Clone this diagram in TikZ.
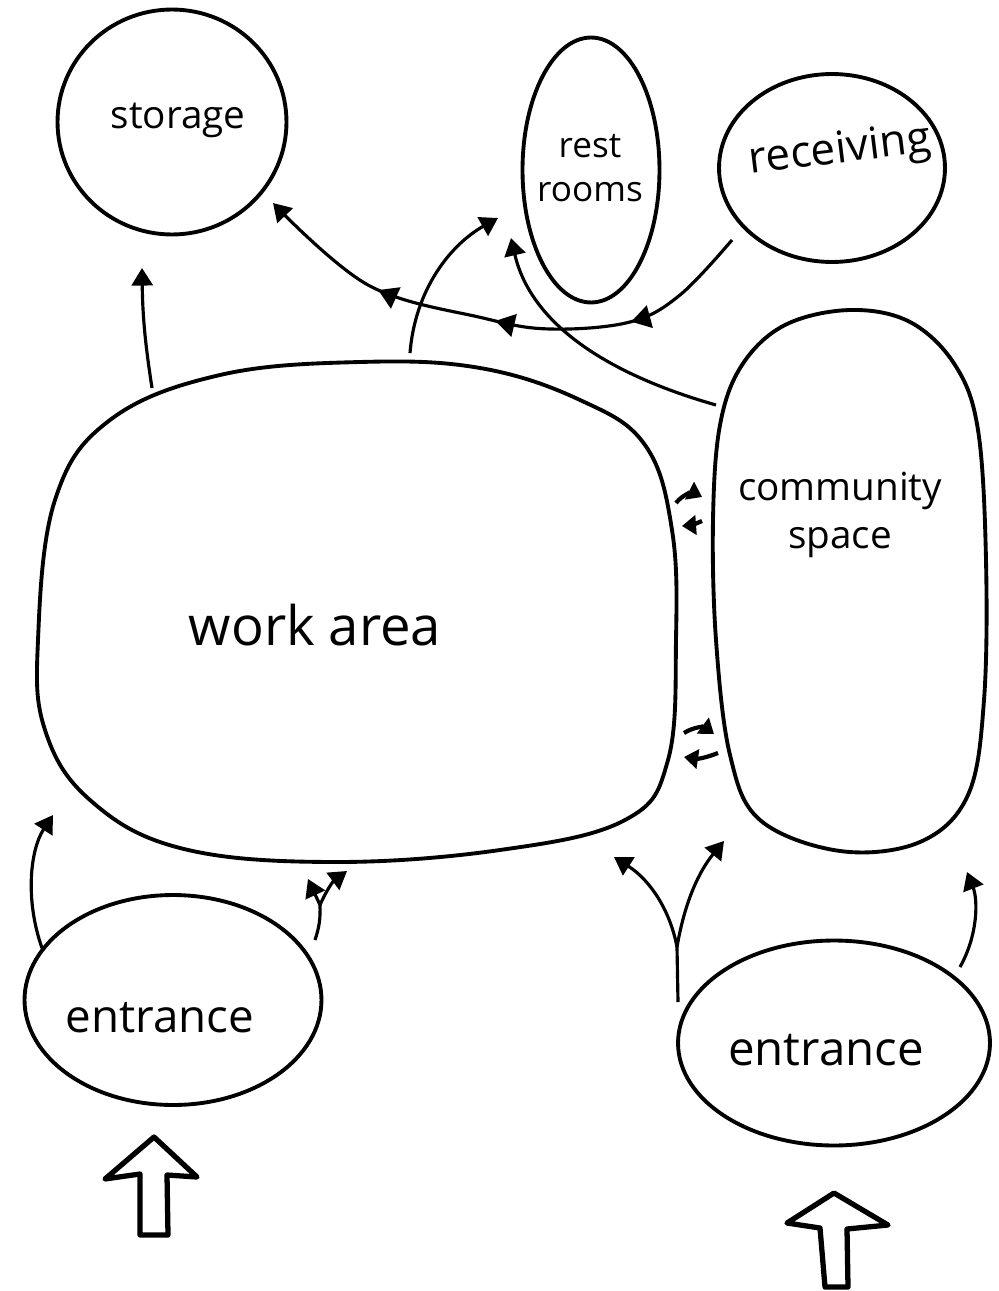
\documentclass[tikz,border=0pt]{standalone}
\usepackage{fontspec}
\setmainfont{Open Sans}
\usetikzlibrary{arrows.meta,decorations.markings,shapes.geometric}
\begin{document}
\begin{tikzpicture}[x=0.02cm,y=-0.02cm,
 room/.style={draw,line width=2.2pt,ellipse,inner sep=0pt},
 blob/.style={line width=2.2pt},
 conn/.style={line width=1.8pt,-{Triangle[width=12pt,length=10pt]}},
 txt/.style={font=\fontsize{22}{27}\selectfont,inner sep=0pt,align=center},
 swaparr/.style={line width=2.4pt,-{Triangle[width=11pt,length=8pt]}},
 blockarr/.style={draw,line width=3pt,line join=round},
 midtri/.style={decoration={markings,
   mark=at position 0.25 with {\arrow{Triangle[width=13pt,length=11pt]}},
   mark=at position 0.51 with {\arrow{Triangle[width=13pt,length=11pt]}},
   mark=at position 0.74 with {\arrow{Triangle[width=13pt,length=11pt]}}},
   postaction={decorate}}]
\useasboundingbox (0,0) rectangle (999,1291);
\fill[white] (0,0) rectangle (999,1291);

% rooms
\node[room,minimum width=4.58cm,minimum height=4.5cm] (storage) at (172,122) {};
\node[txt] (storagetxt) at (178,120) {storage};
\node[room,minimum width=2.74cm,minimum height=5.3cm] (rest) at (591,170) {};
\node[txt,font=\fontsize{20}{25}\selectfont] (resttxt) at (590,168) {rest\\rooms};
\node[room,minimum width=4.52cm,minimum height=3.76cm] (receiving) at (832,168) {};
\node[txt,font=\fontsize{25}{30}\selectfont,rotate=7] (receivingtxt) at (840,152) {receiving};

% work area blob
\draw[blob] plot[smooth cycle,tension=0.65] coordinates {
 (38,640) (55,500) (110,420) (220,375) (360,362) (480,368) (580,400)
 (645,445) (672,530) (676,640) (668,760) (625,820) (500,850) (330,862)
 (180,848) (90,800) (45,730)};
\node[txt,font=\fontsize{31}{36}\selectfont] (work) at (315,625) {work area};
\coordinate (waTopL) at (152,388);
\coordinate (waTopM) at (410,353);

% community space blob
\draw[blob] plot[smooth cycle,tension=0.6] coordinates {
 (850,310) (785,325) (742,365) (720,425) (713,520) (716,640) (730,755) (760,820)
 (840,851) (920,842) (968,795) (984,700) (986,560) (978,430) (955,365) (910,322)};
\node[txt] (communitytxt) at (840,515) {community\\space};

% entrances
\node[room,minimum width=5.94cm,minimum height=4.2cm] (entL) at (173,1000) {};
\node[txt,font=\fontsize{26}{30}\selectfont] (entLtxt) at (160,1018) {entrance};
\node[room,minimum width=6.24cm,minimum height=4.1cm] (entR) at (834,1043) {};
\node[txt,font=\fontsize{27}{30}\selectfont] (entRtxt) at (826,1050) {entrance};

% free ends
\coordinate (storTip) at (142,268);
\coordinate (recStart) at (732,240);
\coordinate (storTip2) at (273,203);
\coordinate (restTip1) at (498,218);
\coordinate (restTip2) at (511,238);
\coordinate (comStart) at (716,405);

% connectors at top
\draw[conn] (waTopL) to[bend left=4] (storTip);
\draw[conn,midtri] plot[smooth,tension=0.6] coordinates {(recStart) (680,295) (630,322) (550,329) (483,318) (368,285) (storTip2)};
\draw[conn] (waTopM) .. controls (415,290) and (450,245) .. (restTip1);
\draw[conn] (comStart) .. controls (600,372) and (530,320) .. (restTip2);

% exchange arrows between work area and community
\coordinate (s1a) at (676,503); \coordinate (s1b) at (702,497);
\coordinate (s2a) at (702,521); \coordinate (s2b) at (682,526);
\coordinate (s3a) at (684,733); \coordinate (s3b) at (714,734);
\coordinate (s4a) at (718,753); \coordinate (s4b) at (684,757);
\draw[swaparr] (s1a) to[bend left=40] (s1b);
\draw[swaparr] (s2a) to[bend left=10] (s2b);
\draw[swaparr] (s3a) to[bend left=35] (s3b);
\draw[swaparr] (s4a) to[bend left=15] (s4b);

% left entrance arrows
\coordinate (eL1) at (42,948); \coordinate (eL1t) at (53,815);
\draw[conn] (eL1) .. controls (25,900) and (30,850) .. (eL1t);
\coordinate (eLs) at (315,940); \coordinate (eLj) at (320,905);
\coordinate (eLt1) at (308,879); \coordinate (eLt2) at (347,871);
\draw[line width=1.8pt] (eLs) to[bend right=10] (eLj);
\draw[conn] (eLj) -- (eLt1);
\draw[conn] (eLj) to[bend left=15] (eLt2);

% right entrance arrows
\coordinate (eRs) at (678,1002); \coordinate (eRj) at (677,947);
\coordinate (eRt1) at (614,857); \coordinate (eRt2) at (724,841);
\draw[line width=1.8pt] (eRs) -- (eRj);
\draw[conn] (eRj) .. controls (670,910) and (650,880) .. (eRt1);
\draw[conn] (eRj) .. controls (685,900) and (700,870) .. (eRt2);
\coordinate (eR2) at (960,967); \coordinate (eR2t) at (967,872);
\draw[conn] (eR2) .. controls (978,935) and (978,900) .. (eR2t);

% block arrows
\draw[blockarr] (154,1137) -- (105,1179) -- (140,1174) -- (140,1235) -- (168,1235) -- (167,1175) -- (197,1177) -- cycle;
\draw[blockarr] (834,1193) -- (787,1223) -- (820,1228) -- (825,1287) -- (848,1287) -- (847,1229) -- (888,1225) -- cycle;
\end{tikzpicture}
\end{document}
